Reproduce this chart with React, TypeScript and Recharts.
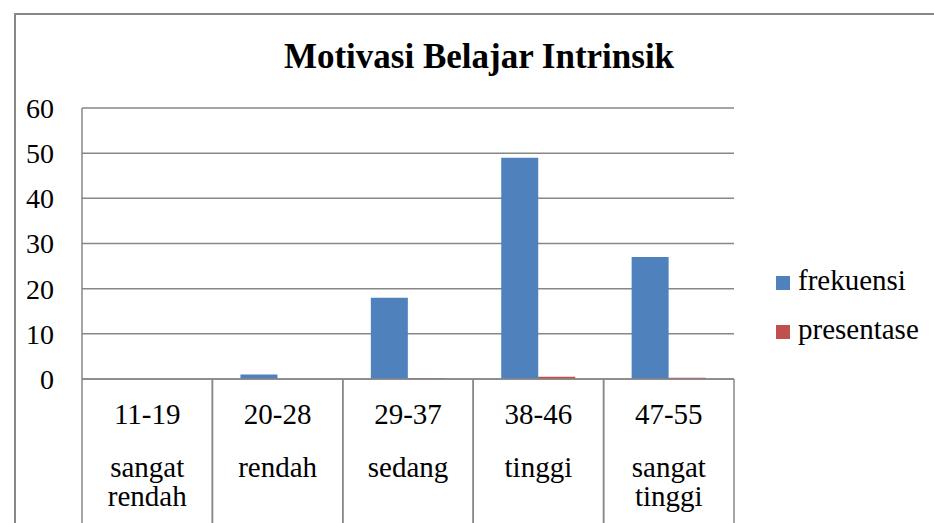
import { BarChart, Bar, XAxis, YAxis, CartesianGrid, Legend } from 'recharts'

const ranges = ['11-19', '20-28', '29-37', '38-46', '47-55']
const levels = [['sangat', 'rendah'], ['rendah'], ['sedang'], ['tinggi'], ['sangat', 'tinggi']]
const frekuensi = [0, 1, 18, 49, 27]
const presentase = [0, 0.01, 0.19, 0.52, 0.28]
const yTicks = [0, 10, 20, 30, 40, 50, 60]

const data = ranges.map((r, i) => ({ range: r, frekuensi: frekuensi[i], presentase: presentase[i] }))

const FONT = 'Liberation Serif, DejaVu Serif, serif'
const GRID = '#878787'

const CategoryTick = (props: any) => {
  const { x, y, payload, index } = props
  const half = payload?.offset ?? 65
  const lines = levels[index] ?? []
  return (
    <g>
      <line x1={x - half} y1={y} x2={x - half} y2={y + 150} stroke={GRID} strokeWidth={1.5} />
      <line x1={x + half} y1={y} x2={x + half} y2={y + 150} stroke={GRID} strokeWidth={1.5} />
      <text x={x} y={y + 45} textAnchor="middle" fontSize={29} fontFamily={FONT} fill="#000">
        {payload.value}
      </text>
      {lines.map((t: string, i: number) => (
        <text key={t + i} x={x} y={y + 98 + i * 29} textAnchor="middle" fontSize={29} fontFamily={FONT} fill="#000">
          {t}
        </text>
      ))}
    </g>
  )
}

const LegendContent = ({ payload }: any) => (
  <div style={{ fontFamily: FONT, fontSize: 29, color: '#000' }}>
    {(payload ?? []).map((p: any) => (
      <div key={p.value} style={{ display: 'flex', alignItems: 'center', height: 49, lineHeight: '49px' }}>
        <span style={{ display: 'inline-block', width: 14, height: 14, background: p.color, marginRight: 8, marginTop: 4 }} />
        <span>{p.value}</span>
      </div>
    ))}
  </div>
)

export default function App() {
  return (
    <div style={{ position: 'absolute', left: 0, top: 0, width: 934, height: 523, overflow: 'hidden', background: '#fff' }}>
      <div style={{ position: 'absolute', left: 14, top: 13, width: 940, height: 560, borderTop: `2px solid ${GRID}`, borderLeft: `2px solid ${GRID}` }} />
      <div style={{ position: 'absolute', left: 14, width: 930, top: 39, textAlign: 'center', fontFamily: FONT, fontWeight: 'bold', fontSize: 35, lineHeight: '35px' }}>
        Motivasi Belajar Intrinsik
      </div>
      <div style={{ position: 'absolute', left: 0, top: 0 }}>
        <BarChart width={934} height={523} data={data} margin={{ top: 108, right: 200, left: 22, bottom: 0 }}
          barCategoryGap="21.5%" barGap={0}>
          <CartesianGrid horizontal vertical={false} stroke={GRID} strokeWidth={1.5} />
          <XAxis dataKey="range" height={144} interval={0} tickLine={false} tickSize={0} tickMargin={0}
            axisLine={{ stroke: GRID, strokeWidth: 1.5 }} tick={<CategoryTick />} />
          <YAxis width={60} domain={[0, 60]} ticks={yTicks} interval={0} tickLine={false} tickSize={0} tickMargin={28}
            axisLine={{ stroke: GRID, strokeWidth: 1.5 }}
            tick={{ fontSize: 28, fontFamily: FONT, fill: '#000' }} />
          <Legend layout="horizontal" align="center" verticalAlign="middle" content={<LegendContent />}
            wrapperStyle={{ position: 'absolute', left: 776, top: 256, width: 160 }} />
          <Bar dataKey="frekuensi" name="frekuensi" fill="#4F81BD" isAnimationActive={false} />
          <Bar dataKey="presentase" name="presentase" fill="#C0504D" isAnimationActive={false} />
        </BarChart>
      </div>
    </div>
  )
}
